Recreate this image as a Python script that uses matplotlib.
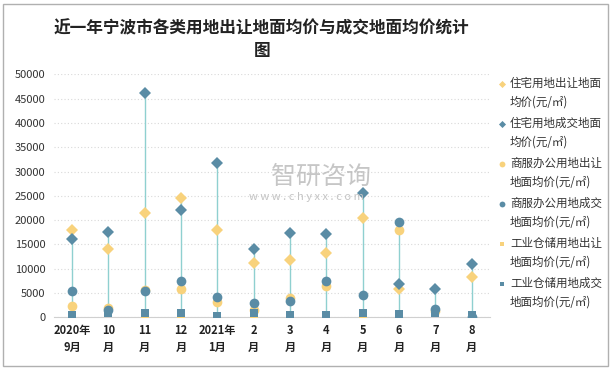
import numpy as np
import matplotlib
matplotlib.use("Agg")
import matplotlib.pyplot as plt
from matplotlib.lines import Line2D
from matplotlib.patches import Rectangle

plt.rcParams["font.family"] = ["Noto Sans CJK SC", "DejaVu Sans"]

# ---- data (yuan per m2) ----
months = ["2020年\n9月", "10\n月", "11\n月", "12\n月", "2021年\n1月", "2\n月",
          "3\n月", "4\n月", "5\n月", "6\n月", "7\n月", "8\n月"]
nan = np.nan
res_sell = [17950, 14000, 21450, 24600, 17950, 11200, 11800, 13250, 20500, 5760, nan, 8350]
res_deal = [16100, 17550, 46200, 22100, 31750, 14050, 17400, 17200, 25650, 6850, 5850, 10980]
com_sell = [2250, 1850, 5600, 5900, 3100, 1500, 3900, 6400, nan, 17900, 1350, nan]
com_deal = [5350, 1500, 5350, 7400, 4100, 2880, 3350, 7500, 4520, 19550, 1650, 30]
ind_sell = [nan, nan, 200, 150, nan, 120, nan, nan, 150, 300, nan, nan]
ind_deal = [470, 820, 820, 820, 330, 820, 540, 540, 820, 680, 820, 470]

series = [
    ("住宅用地出让地面\n均价(元/㎡)", res_sell, "D", "#F8D27C", 6),
    ("住宅用地成交地面\n均价(元/㎡)", res_deal, "D", "#5A8CA5", 6),
    ("商服办公用地出让\n地面均价(元/㎡)", com_sell, "o", "#F8D27C", 7),
    ("商服办公用地成交\n地面均价(元/㎡)", com_deal, "o", "#5A8CA5", 7),
    ("工业仓储用地出让\n地面均价(元/㎡)", ind_sell, "s", "#F8D27C", 5.8),
    ("工业仓储用地成交\n地面均价(元/㎡)", ind_deal, "s", "#5A8CA5", 5.8),
]

fig = plt.figure(figsize=(6.13, 3.70), dpi=100)
ax = fig.add_axes([0.088, 0.1424, 0.711, 0.6568])

x = np.arange(len(months))
allv = np.array([s[1] for s in series], dtype=float)
ax.vlines(x, np.nanmin(allv, axis=0), np.nanmax(allv, axis=0),
          color="#8FD0D0", lw=1.0, zorder=2)

for i, (label, vals, mk, col, ms) in enumerate(series):
    ax.plot(x, vals, ls="none", marker=mk, ms=ms, color=col,
            mew=0, label=label, zorder=3 + i)

ax.set_xlim(-0.5, len(months) - 0.5)
ax.set_ylim(0, 50000)
ax.set_yticks(np.arange(0, 50001, 5000))
ax.set_xticks(x)
ax.set_xticklabels(months, fontsize=8, fontweight="bold", color="#222222",
                   linespacing=1.35)
ax.tick_params(axis="y", labelsize=8, colors="#333333", length=0, pad=6)
ax.tick_params(axis="x", length=0, pad=5)
ax.grid(axis="y", color="#d9d9d9", ls=(0, (1, 2)), lw=0.8)
ax.set_axisbelow(True)
for side in ("top", "right", "left"):
    ax.spines[side].set_visible(False)
ax.spines["bottom"].set_color("#d0d0d0")

# legend drawn by hand so the marker sits on the first text line
for i, (label, vals, mk, col, ms) in enumerate(series):
    yf = 1 - (84 + 40 * i) / 370
    fig.add_artist(Line2D([502 / 613], [yf], transform=fig.transFigure,
                          marker=mk, ms=ms * 0.6, color=col, mew=0, ls="none"))
    fig.text(510 / 613, yf + 7 / 370, label, ha="left", va="top", fontsize=8.3,
             color="#333333", linespacing=1.55)

fig.text(0.427, 0.892, "近一年宁波市各类用地出让地面均价与成交地面均价统计\n图",
         ha="center", va="center", fontsize=12, fontweight="bold",
         color="#222222", linespacing=1.3)

# watermark
fig.text(0.524, 0.522, "智研咨询", ha="center", va="center", fontsize=18,
         color="#b8b8b8", alpha=0.8)
fig.text(0.50, 0.467, "w w w . c h y x x . c o m", ha="center", va="center",
         fontsize=8, color="#c4c4c4")

fig.patches.append(Rectangle((0.005, 0.012), 0.987, 0.978, transform=fig.transFigure,
                             fill=False, ec="#b0b0b0", lw=1.0))

fig.savefig("out.png", dpi=100)
